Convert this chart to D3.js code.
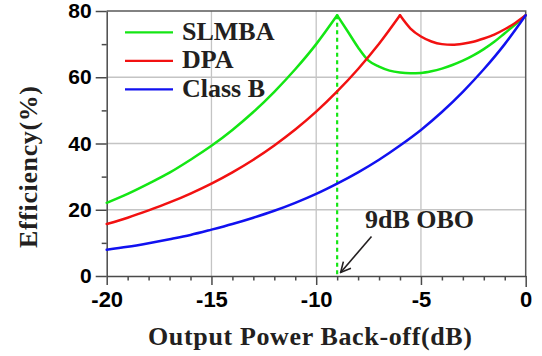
<!DOCTYPE html>
<html>
<head>
<meta charset="utf-8">
<script src="https://cdn.jsdelivr.net/npm/d3@7"></script>
<style>
  html, body { margin: 0; padding: 0; background: #fff; }
  svg { display: block; }
</style>
</head>
<body>
<svg id="chart" width="542" height="356"></svg>
<script>
// Output power back-off (dB) sample points and drain efficiency (%) per architecture
const slmbaBackoff = [-20, -19, -18, -17, -16, -15, -14, -13, -12, -11, -10,
  -9, -8.5, -8, -7.5, -7, -6.5, -6, -5.5, -5, -4.5, -4, -3.5, -3, -2.5, -2, -1.5, -1, -0.5, 0];
const slmbaEff = [22.1, 24.8, 27.9, 31.2, 35.1, 39.3, 44.1, 49.5, 55.6, 62.4, 70.0,
  78.7, 73.9, 69.0, 65.0, 63.2, 62.0, 61.4, 61.2, 61.3, 61.8, 62.6, 63.7, 65.0, 66.6, 68.5, 70.7, 73.3, 75.9, 78.7];

const dpaBackoff = [-20, -19, -18, -17, -16, -15, -14, -13, -12, -11, -10, -9, -8, -7,
  -6, -5.5, -5, -4.5, -4, -3.5, -3, -2.5, -2, -1.5, -1, -0.5, 0];
const dpaEff = [15.7, 17.6, 19.8, 22.2, 24.9, 27.9, 31.3, 35.1, 39.4, 44.2, 49.6, 55.7, 62.5, 70.1,
  78.7, 74.7, 72.3, 70.8, 70.0, 69.8, 70.1, 70.7, 71.7, 72.9, 74.5, 76.4, 78.7];

const classBBackoff = [-20, -19, -18, -17, -16, -15, -14, -13, -12, -11, -10,
  -9, -8, -7, -6, -5, -4, -3, -2, -1, 0];
const classBEff = [7.9, 8.8, 9.9, 11.1, 12.4, 14.0, 15.7, 17.6, 19.7, 22.1, 24.8,
  27.9, 31.3, 35.1, 39.4, 44.1, 49.5, 55.6, 62.4, 70.0, 78.7];

const seriesNames = ["SLMBA", "DPA", "Class B"];
const seriesColors = ["#14e614", "#f21111", "#1111f0"];

const xTicks = [-20, -15, -10, -5, 0];
const yTicks = [0, 20, 40, 60, 80];
const xMinorTicks = d3.range(-19, 0).filter(v => v % 5 !== 0);
const yMinorTicks = [10, 30, 50, 70];

const oboBackoff = -9;
const oboLabel = "9dB OBO";
const xTitle = "Output Power Back-off(dB)";
const yTitle = "Efficiency(%)";

const series = [
  { name: seriesNames[0], color: seriesColors[0], x: slmbaBackoff, y: slmbaEff },
  { name: seriesNames[1], color: seriesColors[1], x: dpaBackoff, y: dpaEff },
  { name: seriesNames[2], color: seriesColors[2], x: classBBackoff, y: classBEff }
];

const svg = d3.select("#chart");
const plotLeft = 106.7, plotRight = 525.7, plotTop = 11, plotBottom = 276;
const x = d3.scaleLinear().domain([-20, 0]).range([plotLeft, plotRight]);
const y = d3.scaleLinear().domain([0, 80]).range([plotBottom, plotTop]);

const serif = "'Liberation Serif', 'Times New Roman', serif";
const sans = "'Liberation Sans', Arial, sans-serif";
const ink = "#231f20";
const plainNumber = d => String(d);

// grid
const grid = svg.append("g").attr("stroke", "#c4c4c4").attr("stroke-width", 1.3);
grid.selectAll(".gx").data(xTicks.filter(v => v > -20 && v < 0)).join("line")
  .attr("x1", d => x(d)).attr("x2", d => x(d)).attr("y1", plotTop).attr("y2", plotBottom);
grid.selectAll(".gy").data(yTicks.filter(v => v > 0 && v < 80)).join("line")
  .attr("x1", plotLeft).attr("x2", plotRight).attr("y1", d => y(d)).attr("y2", d => y(d));

// frame (top and right)
svg.append("path")
  .attr("d", `M${plotLeft},${plotTop}H${plotRight}V${plotBottom}`)
  .attr("fill", "none").attr("stroke", "#5a5a5a").attr("stroke-width", 1.5);

// axes
function styleAxis(g) {
  g.select(".domain").attr("stroke", "#4a4a4a").attr("stroke-width", 1.5);
  g.selectAll(".tick line").attr("stroke", "#4a4a4a").attr("stroke-width", 1.5);
}
const yAxis = svg.append("g").attr("transform", `translate(${plotLeft},0)`)
  .call(d3.axisLeft(y).tickValues(yTicks).tickFormat(plainNumber)
    .tickSize(11).tickSizeOuter(0).tickPadding(4));
styleAxis(yAxis);
yAxis.selectAll("text").attr("font-family", sans).attr("font-weight", "bold")
  .attr("font-size", 21).attr("fill", "#000");

const yMinor = svg.append("g").attr("transform", `translate(${plotLeft},0)`)
  .call(d3.axisLeft(y).tickValues(yMinorTicks).tickSize(5).tickFormat(""));
yMinor.select(".domain").remove();
styleAxis(yMinor);

const xAxis = svg.append("g").attr("transform", `translate(0,${plotBottom})`)
  .call(d3.axisBottom(x).tickValues(xTicks).tickFormat(plainNumber)
    .tickSize(9).tickSizeOuter(0).tickPadding(6));
styleAxis(xAxis);
xAxis.selectAll("text").attr("font-family", sans).attr("font-weight", "bold")
  .attr("font-size", 22).attr("fill", "#000");
xAxis.selectAll(".tick").filter(d => d === 0).select("line").attr("y2", 11);

const xMinor = svg.append("g").attr("transform", `translate(0,${plotBottom})`)
  .call(d3.axisBottom(x).tickValues(xMinorTicks).tickSize(4.5).tickFormat(""));
xMinor.select(".domain").remove();
styleAxis(xMinor);

// 9 dB back-off marker
svg.append("line")
  .attr("x1", x(oboBackoff)).attr("x2", x(oboBackoff))
  .attr("y1", y(slmbaEff[slmbaBackoff.indexOf(oboBackoff)])).attr("y2", plotBottom)
  .attr("stroke", seriesColors[0]).attr("stroke-width", 2.2)
  .attr("stroke-dasharray", "4,3.5");

// curves: each series is split at its efficiency peak to keep the cusp sharp
const line = d3.line().x(d => x(d[0])).y(d => y(d[1])).curve(d3.curveMonotoneX);
series.forEach(s => {
  const pts = s.x.map((v, i) => [v, s.y[i]]);
  let peak = -1;
  for (let i = 1; i < pts.length - 1; i++) {
    if (pts[i][1] > pts[i - 1][1] && pts[i][1] > pts[i + 1][1]) { peak = i; break; }
  }
  const pieces = peak > 0 ? [pts.slice(0, peak + 1), pts.slice(peak)] : [pts];
  pieces.forEach(p => {
    svg.append("path").attr("d", line(p)).attr("fill", "none")
      .attr("stroke", s.color).attr("stroke-width", 2.5)
      .attr("stroke-linejoin", "round").attr("stroke-linecap", "round");
  });
});

// legend
const legend = svg.append("g");
series.forEach((s, i) => {
  const ly = 32.3 + i * 28.5;
  legend.append("line").attr("x1", 125).attr("x2", 173).attr("y1", ly).attr("y2", ly)
    .attr("stroke", s.color).attr("stroke-width", 2.2);
  legend.append("text").attr("x", 182).attr("y", ly + 7.2)
    .attr("font-family", serif).attr("font-weight", "bold").attr("font-size", 26)
    .attr("fill", ink).text(s.name);
});

// annotation
svg.append("defs").append("marker")
  .attr("id", "arrowhead").attr("viewBox", "0 0 12 12").attr("refX", 11).attr("refY", 6)
  .attr("markerWidth", 12).attr("markerHeight", 12).attr("markerUnits", "userSpaceOnUse")
  .attr("orient", "auto")
  .append("path").attr("d", "M1,1L11,6L1,11").attr("fill", "none")
  .attr("stroke", ink).attr("stroke-width", 1.6);
svg.append("line")
  .attr("x1", 371.5).attr("y1", 236.5)
  .attr("x2", x(oboBackoff) + 3.5).attr("y2", plotBottom - 3.5)
  .attr("stroke", ink).attr("stroke-width", 1.6)
  .attr("marker-end", "url(#arrowhead)");
svg.append("text").attr("x", 365).attr("y", 228.3)
  .attr("font-family", serif).attr("font-weight", "bold").attr("font-size", 26)
  .attr("fill", ink).text(oboLabel);

// axis titles
svg.append("text").attr("x", 310).attr("y", 345).attr("text-anchor", "middle")
  .attr("font-family", serif).attr("font-weight", "bold").attr("font-size", 26)
  .attr("textLength", 324).attr("fill", ink).text(xTitle);
svg.append("text").attr("transform", "translate(37,167) rotate(-90)")
  .attr("text-anchor", "middle")
  .attr("font-family", serif).attr("font-weight", "bold").attr("font-size", 26)
  .attr("textLength", 162).attr("fill", ink).text(yTitle);
</script>
</body>
</html>
